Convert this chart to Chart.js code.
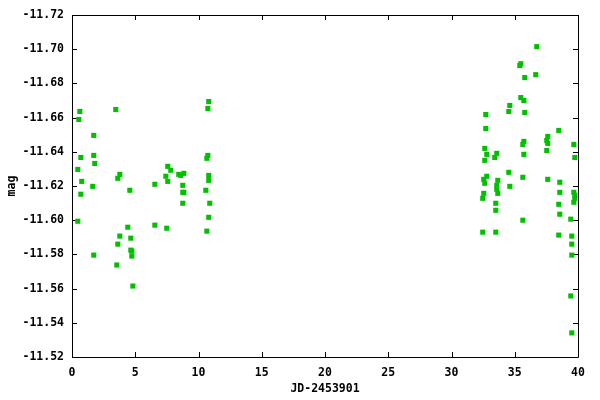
<!DOCTYPE html>
<html lang="en">
<head>
    <meta charset="UTF-8">
    <title>mag vs JD-2453901</title>
    <script src="https://cdn.jsdelivr.net/npm/chart.js"></script>
    <style>
        html, body {
            margin: 0;
            padding: 0;
            background-color: #fff;
        }
        .chart-box {
            width: 600px;
            height: 400px;
        }
    </style>
</head>
<body>
    <div class="chart-box">
        <canvas id="magChart" width="600" height="400"></canvas>
    </div>

    <script>
        // days since JD 2453901
        const jdDays = [
            0.62, 0.54, 1.72, 0.70, 1.72, 1.80, 0.46, 0.77, 1.64, 0.70, 0.46, 1.72,
            3.46, 3.78, 3.62, 4.57, 4.41, 3.78, 3.62, 4.65, 4.65, 4.73, 4.73, 3.54, 4.81,
            6.55, 6.55, 7.57, 7.81, 7.42, 7.57, 7.49, 8.44, 8.60, 8.84, 8.76, 8.76, 8.84, 8.76,
            10.81, 10.74, 10.74, 10.66, 10.81, 10.81, 10.58, 10.89, 10.81, 10.66,
            36.74, 35.48, 35.40, 36.66, 35.79, 35.48, 35.72, 34.61, 34.53, 35.79,
            32.71, 32.71, 38.48, 37.61, 37.53, 37.61, 35.72, 35.64, 39.67, 32.63,
            32.79, 33.58, 33.42, 35.72, 32.63, 37.53, 39.75, 34.53, 32.79, 35.64,
            37.61, 32.55, 32.63, 33.66, 38.56, 33.58, 33.58, 33.66, 34.61, 32.55,
            32.47, 38.56, 39.67, 39.75, 39.75, 39.67, 38.48, 33.50, 33.50, 38.56,
            39.43, 35.64, 32.47, 33.50, 38.48, 39.51, 39.51, 39.51, 39.43, 39.51
        ];
        const magValues = [
            -11.6636, -11.6589, -11.6496, -11.6367, -11.6379, -11.6332, -11.6297, -11.6227, -11.6198, -11.6152, -11.5994, -11.5796,
            -11.6647, -11.6268, -11.6245, -11.6175, -11.5959, -11.5907, -11.5860, -11.5895, -11.5825, -11.5819, -11.5790, -11.5738, -11.5615,
            -11.6210, -11.5971, -11.6315, -11.6292, -11.6257, -11.6227, -11.5953, -11.6268, -11.6262, -11.6274, -11.6204, -11.6163, -11.6163, -11.6099,
            -11.6694, -11.6653, -11.6379, -11.6362, -11.6262, -11.6233, -11.6175, -11.6099, -11.6017, -11.5936,
            -11.7015, -11.6915, -11.6904, -11.6851, -11.6834, -11.6717, -11.6700, -11.6671, -11.6636, -11.6630,
            -11.6618, -11.6536, -11.6525, -11.6490, -11.6466, -11.6449, -11.6461, -11.6443, -11.6443, -11.6420,
            -11.6385, -11.6391, -11.6367, -11.6385, -11.6350, -11.6408, -11.6367, -11.6280, -11.6257, -11.6251,
            -11.6239, -11.6239, -11.6216, -11.6233, -11.6222, -11.6204, -11.6181, -11.6157, -11.6198, -11.6157,
            -11.6128, -11.6163, -11.6163, -11.6146, -11.6128, -11.6105, -11.6093, -11.6099, -11.6058, -11.6035,
            -11.6006, -11.6000, -11.5930, -11.5930, -11.5913, -11.5907, -11.5860, -11.5796, -11.5557, -11.5341
        ];
        const xTickValues = [0, 5, 10, 15, 20, 25, 30, 35, 40];
        const yTickValues = [-11.72, -11.70, -11.68, -11.66, -11.64, -11.62, -11.60, -11.58, -11.56, -11.54, -11.52];

        const points = jdDays.map((d, i) => ({ x: d, y: magValues[i] }));

        const fontFamily = "'DejaVu Sans Mono', monospace";
        const tickLen = 5;

        // gnuplot-like frame with inward ticks on all four sides
        const framePlugin = {
            id: 'frame',
            beforeDatasetsDraw(chart) {
                const ctx = chart.ctx;
                const a = chart.chartArea;
                const xs = chart.scales.x;
                const ys = chart.scales.y;
                ctx.save();
                ctx.strokeStyle = '#000';
                ctx.lineWidth = 1;
                ctx.beginPath();
                ctx.rect(a.left + 0.5, a.top + 0.5, a.right - a.left, a.bottom - a.top);
                xTickValues.forEach(v => {
                    const px = Math.round(xs.getPixelForValue(v)) + 0.5;
                    ctx.moveTo(px, a.bottom);
                    ctx.lineTo(px, a.bottom - tickLen);
                    ctx.moveTo(px, a.top);
                    ctx.lineTo(px, a.top + tickLen);
                });
                yTickValues.forEach(v => {
                    const py = Math.round(ys.getPixelForValue(v)) + 0.5;
                    ctx.moveTo(a.left, py);
                    ctx.lineTo(a.left + tickLen, py);
                    ctx.moveTo(a.right, py);
                    ctx.lineTo(a.right - tickLen, py);
                });
                ctx.stroke();
                ctx.restore();
            }
        };

        new Chart(document.getElementById('magChart').getContext('2d'), {
            type: 'scatter',
            data: {
                datasets: [{
                    label: 'mag',
                    data: points,
                    pointStyle: 'rect',
                    pointRadius: 3.6,
                    pointHoverRadius: 3.6,
                    borderWidth: 0,
                    backgroundColor: '#00c000',
                    borderColor: '#00c000'
                }]
            },
            options: {
                responsive: false,
                animation: false,
                events: [],
                layout: {
                    padding: { top: 15, right: 22, bottom: 0, left: 0 }
                },
                plugins: {
                    legend: { display: false },
                    tooltip: { enabled: false }
                },
                scales: {
                    x: {
                        type: 'linear',
                        min: 0,
                        max: 40,
                        afterBuildTicks: s => { s.ticks = xTickValues.map(v => ({ value: v })); },
                        afterFit: s => { s.height = 43; },
                        grid: { display: false, drawTicks: false },
                        border: { display: false },
                        ticks: {
                            padding: 9,
                            color: '#000',
                            font: { family: fontFamily, size: 11.5, weight: 'bold' },
                            callback: v => String(v)
                        },
                        title: {
                            display: true,
                            text: 'JD-2453901',
                            color: '#000',
                            font: { family: fontFamily, size: 11.5, weight: 'bold' },
                            padding: { top: 0, bottom: 4 }
                        }
                    },
                    y: {
                        type: 'linear',
                        reverse: true,
                        min: -11.72,
                        max: -11.52,
                        afterBuildTicks: s => { s.ticks = yTickValues.map(v => ({ value: v })); },
                        afterFit: s => { s.width = 72; },
                        grid: { display: false, drawTicks: false },
                        border: { display: false },
                        ticks: {
                            padding: 8,
                            color: '#000',
                            font: { family: fontFamily, size: 11.5, weight: 'bold' },
                            callback: v => v.toFixed(2)
                        },
                        title: {
                            display: true,
                            text: 'mag',
                            color: '#000',
                            font: { family: fontFamily, size: 11.5, weight: 'bold' },
                            padding: { top: 5, bottom: 0 }
                        }
                    }
                }
            },
            plugins: [framePlugin]
        });
    </script>
</body>
</html>
